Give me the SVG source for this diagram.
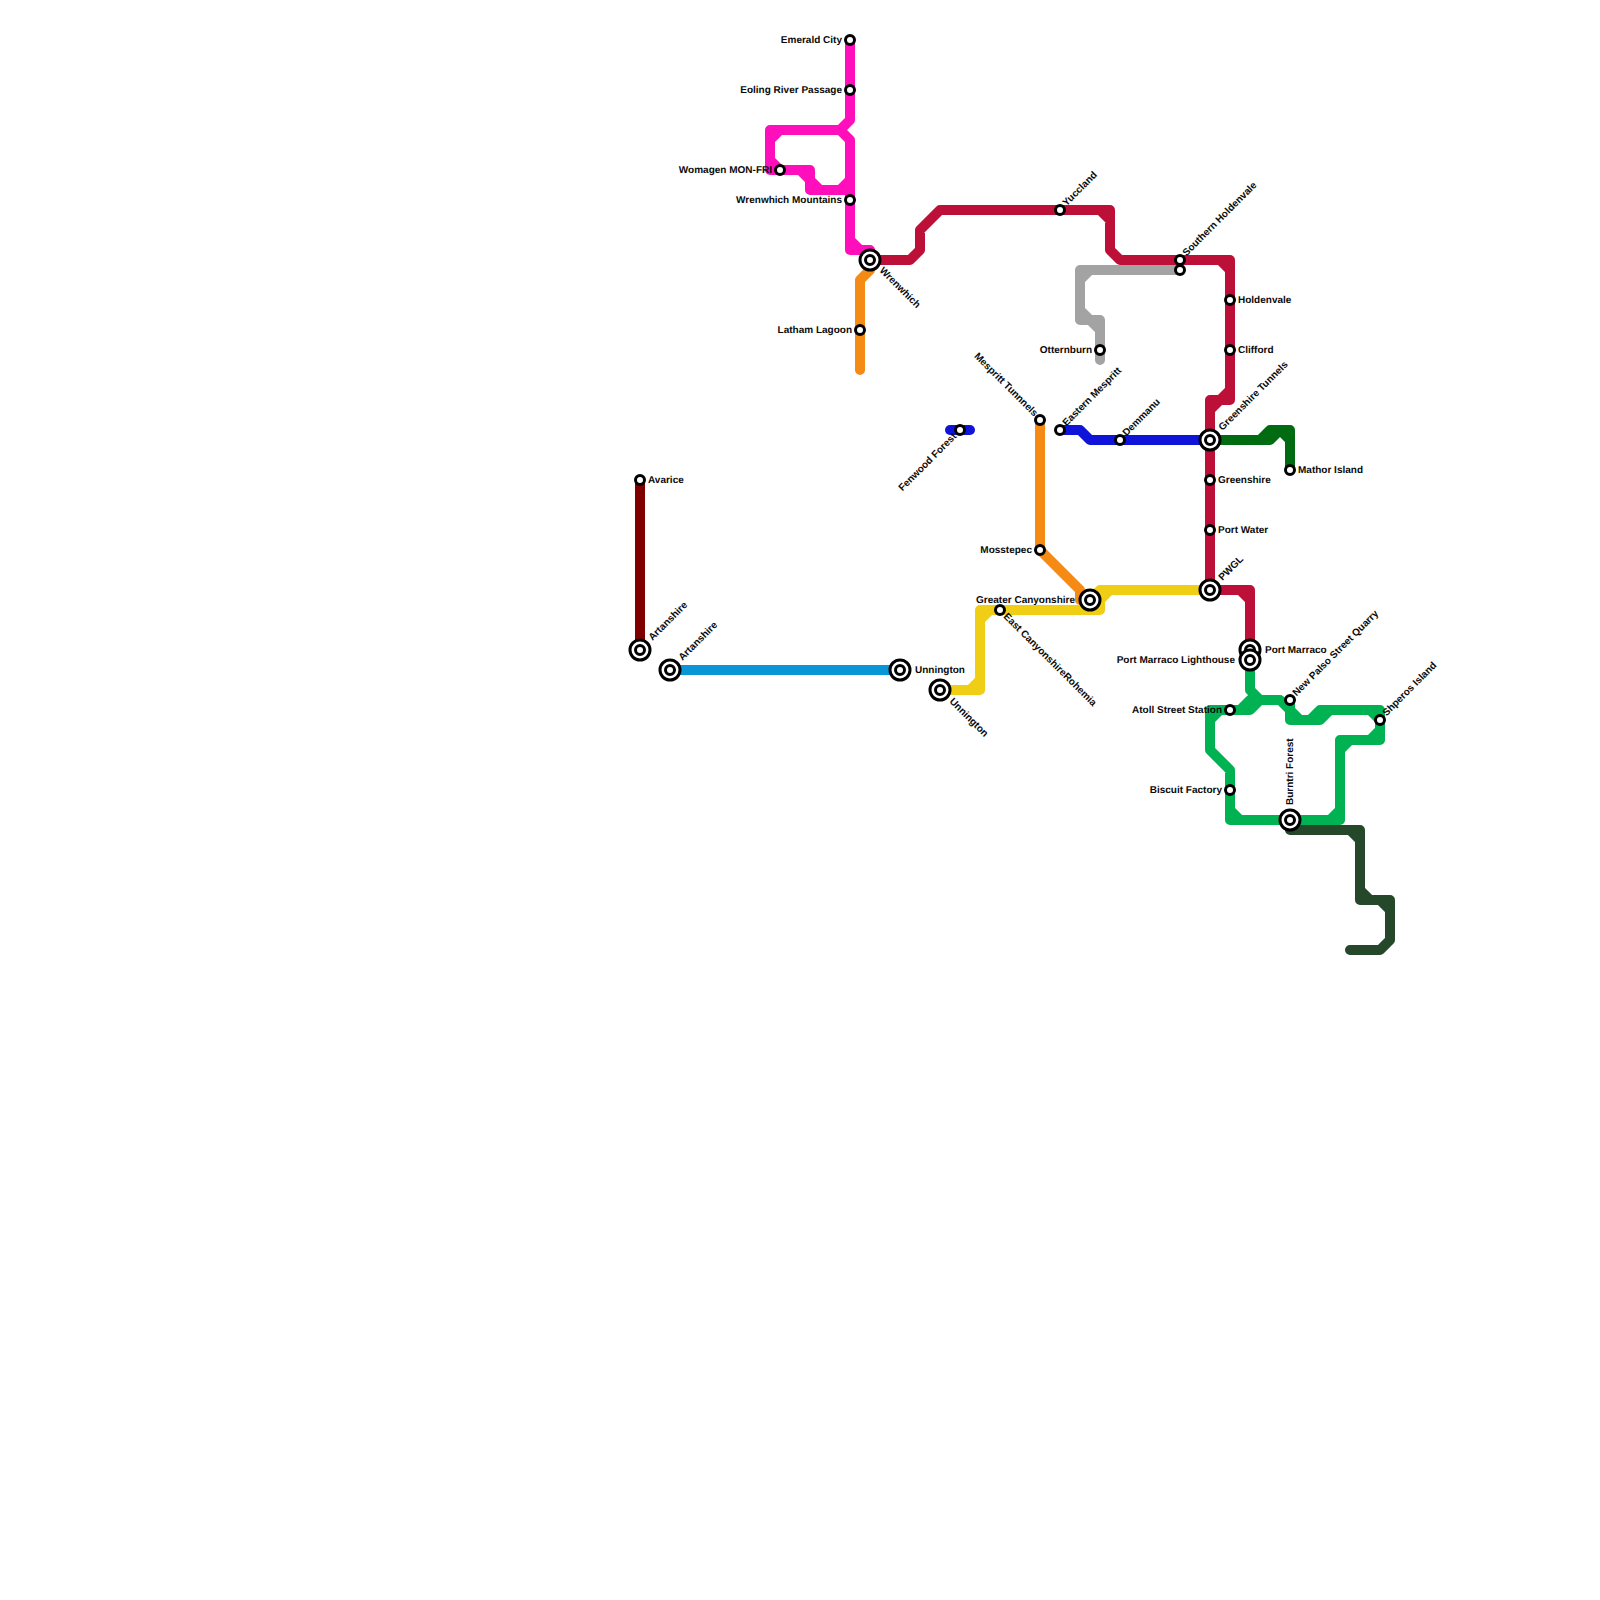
<svg xmlns="http://www.w3.org/2000/svg" width="1600" height="1600" viewBox="0 0 1600 1600">
<style>
.l{fill:none;stroke-width:10;stroke-linejoin:round;stroke-linecap:round}
.s{fill:#fff;stroke:#000;stroke-width:3}
.b{fill:#fff;stroke:#000;stroke-width:3}
text{font-family:"Liberation Sans",Arial,sans-serif;font-weight:700;font-size:10px;fill:#0a0a0a;text-rendering:geometricPrecision}
.e{text-anchor:end}
</style>
<g id="connectors">
<path class="l" stroke="#800000" d="M640 480V650"/>
<path class="l" stroke="#0896d7" d="M670 670H900"/>
<path class="l" stroke="#ff0fbb" d="M850 40V120L840 130H770V170H810V190H850M840 130L850 140V250H870V260M780 130L770 140M770 160L780 170M800 170L810 180L820 190M840 190L850 180M850 240L860 250"/>
<path class="l" stroke="#f58a14" d="M870 260V270L860 280V370"/>
<path class="l" stroke="#f58a14" d="M1040 420V550L1080 590V600H1090"/>
<path class="l" stroke="#bd1038" d="M870 260H910L920 250V230L940 210H1110V250L1120 260H1230V400H1210V590H1250V650M1100 210L1110 220M1220 260L1230 270M1230 390L1220 400L1210 410M1240 590L1250 600"/>
<path class="l" stroke="#a3a3a3" d="M1180 270H1080V320H1100V360M1090 270L1080 280M1080 310L1090 320L1100 330"/>
<path class="l" stroke="#1014d8" d="M950 430H970"/>
<path class="l" stroke="#1014d8" d="M1060 430H1080L1090 440H1210"/>
<path class="l" stroke="#006b10" d="M1210 440H1270L1280 430M1260 440L1270 430H1290V470M1280 430L1290 440"/>
<path class="l" stroke="#f0ce15" d="M940 690H980V610H1100V600L1110 590M1090 600L1100 590H1210M970 690L980 680M980 620L990 610"/>
<path class="l" stroke="#00b251" d="M1250 660V690L1260 700H1280L1300 720M1290 700V720H1320L1330 710M1310 720L1320 710H1380V740H1340V820H1230V770L1210 750V710H1250L1260 700M1240 710L1250 700M1370 710L1380 720M1370 740L1380 730M1340 750L1350 740M1330 820L1340 810M1230 810L1240 820M1210 720L1220 710"/>
<path class="l" stroke="#25472a" d="M1290 820V830H1360V900H1390V940L1380 950H1350M1350 830L1360 840M1360 890L1370 900M1380 900L1390 910"/>
</g>
<g id="n-emerald-city"><circle class="s" cx="850" cy="40" r="4.5"/><text class="e" x="842" y="42.5">Emerald City</text></g>
<g id="n-eoling"><circle class="s" cx="850" cy="90" r="4.5"/><text class="e" x="842" y="92.5">Eoling River Passage</text></g>
<g id="n-womagen"><circle class="s" cx="780" cy="170" r="4.5"/><text class="e" x="772" y="172.5">Womagen MON-FRI</text></g>
<g id="n-wrenwhich-mountains"><circle class="s" cx="850" cy="200" r="4.5"/><text class="e" x="842" y="202.5">Wrenwhich Mountains</text></g>
<g id="n-wrenwhich"><circle class="b" cx="870" cy="260" r="10"/><circle class="b" cx="870" cy="260" r="4.5"/><text transform="translate(879 271) rotate(45)">Wrenwhich</text></g>
<g id="n-latham"><circle class="s" cx="860" cy="330" r="4.5"/><text class="e" x="852" y="332.5">Latham Lagoon</text></g>
<g id="n-yuccland"><circle class="s" cx="1060" cy="210" r="4.5"/><text transform="translate(1066.5 206.5) rotate(-45)">Yuccland</text></g>
<g id="n-southern-holdenvale"><circle class="s" cx="1180" cy="260" r="4.5"/><text transform="translate(1186.5 256.5) rotate(-45)">Southern Holdenvale</text></g>
<g id="n-grey-end"><circle class="s" cx="1180" cy="270" r="4.5"/></g>
<g id="n-holdenvale"><circle class="s" cx="1230" cy="300" r="4.5"/><text x="1238" y="302.5">Holdenvale</text></g>
<g id="n-clifford"><circle class="s" cx="1230" cy="350" r="4.5"/><text x="1238" y="352.5">Clifford</text></g>
<g id="n-otternburn"><circle class="s" cx="1100" cy="350" r="4.5"/><text class="e" x="1092" y="352.5">Otternburn</text></g>
<g id="n-mespritt-tunnels"><circle class="s" cx="1040" cy="420" r="4.5"/><text class="e" transform="translate(1034 417) rotate(45)">Mespritt Tunnnels</text></g>
<g id="n-eastern-mespritt"><circle class="s" cx="1060" cy="430" r="4.5"/><text transform="translate(1066.5 426.5) rotate(-45)">Eastern Mespritt</text></g>
<g id="n-demmanu"><circle class="s" cx="1120" cy="440" r="4.5"/><text transform="translate(1126.5 436.5) rotate(-45)">Demmanu</text></g>
<g id="n-fenwood"><circle class="s" cx="960" cy="430" r="4.5"/><text class="e" transform="translate(957 437) rotate(-45)">Fenwood Forest</text></g>
<g id="n-greenshire-tunnels"><circle class="b" cx="1210" cy="440" r="10"/><circle class="b" cx="1210" cy="440" r="4.5"/><text transform="translate(1222.5 431) rotate(-45)">Greenshire Tunnels</text></g>
<g id="n-greenshire"><circle class="s" cx="1210" cy="480" r="4.5"/><text x="1218" y="482.5">Greenshire</text></g>
<g id="n-mathor"><circle class="s" cx="1290" cy="470" r="4.5"/><text x="1298" y="472.5">Mathor Island</text></g>
<g id="n-port-water"><circle class="s" cx="1210" cy="530" r="4.5"/><text x="1218" y="532.5">Port Water</text></g>
<g id="n-avarice"><circle class="s" cx="640" cy="480" r="4.5"/><text x="648" y="482.5">Avarice</text></g>
<g id="n-mosstepec"><circle class="s" cx="1040" cy="550" r="4.5"/><text class="e" x="1032" y="552.5">Mosstepec</text></g>
<g id="n-pwgl"><circle class="b" cx="1210" cy="590" r="10"/><circle class="b" cx="1210" cy="590" r="4.5"/><text transform="translate(1222.5 581) rotate(-45)">PWGL</text></g>
<g id="n-greater-canyonshire"><circle class="b" cx="1090" cy="600" r="10"/><circle class="b" cx="1090" cy="600" r="4.5"/><text class="e" x="1075" y="602.5">Greater Canyonshire</text></g>
<g id="n-east-canyonshire"><circle class="s" cx="1000" cy="610" r="4.5"/><text transform="translate(1003 617) rotate(45)">East CanyonshireRohemia</text></g>
<g id="n-artanshire-1"><circle class="b" cx="640" cy="650" r="10"/><circle class="b" cx="640" cy="650" r="4.5"/><text transform="translate(652.5 641) rotate(-45)">Artanshire</text></g>
<g id="n-artanshire-2"><circle class="b" cx="670" cy="670" r="10"/><circle class="b" cx="670" cy="670" r="4.5"/><text transform="translate(682.5 661) rotate(-45)">Artanshire</text></g>
<g id="n-unnington-1"><circle class="b" cx="900" cy="670" r="10"/><circle class="b" cx="900" cy="670" r="4.5"/><text x="915" y="672.5">Unnington</text></g>
<g id="n-unnington-2"><circle class="b" cx="940" cy="690" r="10"/><circle class="b" cx="940" cy="690" r="4.5"/><text transform="translate(949 702) rotate(45)">Unnington</text></g>
<g id="n-port-marraco"><circle class="b" cx="1250" cy="650" r="10"/><circle class="b" cx="1250" cy="650" r="4.5"/><text x="1265" y="652.5">Port Marraco</text></g>
<g id="n-port-marraco-lighthouse"><circle class="b" cx="1250" cy="660" r="10"/><circle class="b" cx="1250" cy="660" r="4.5"/><text class="e" x="1235" y="662.5">Port Marraco Lighthouse</text></g>
<g id="n-new-palso"><circle class="s" cx="1290" cy="700" r="4.5"/><text transform="translate(1296.5 696.5) rotate(-45)">New Palso Street Quarry</text></g>
<g id="n-atoll"><circle class="s" cx="1230" cy="710" r="4.5"/><text class="e" x="1222" y="712.5">Atoll Street Station</text></g>
<g id="n-shperos"><circle class="s" cx="1380" cy="720" r="4.5"/><text transform="translate(1386.5 716.5) rotate(-45)">Shperos Island</text></g>
<g id="n-biscuit"><circle class="s" cx="1230" cy="790" r="4.5"/><text class="e" x="1222" y="792.5">Biscuit Factory</text></g>
<g id="n-burntri"><circle class="b" cx="1290" cy="820" r="10"/><circle class="b" cx="1290" cy="820" r="4.5"/><text transform="translate(1292.5 805) rotate(-90)">Burntri Forest</text></g>
</svg>
